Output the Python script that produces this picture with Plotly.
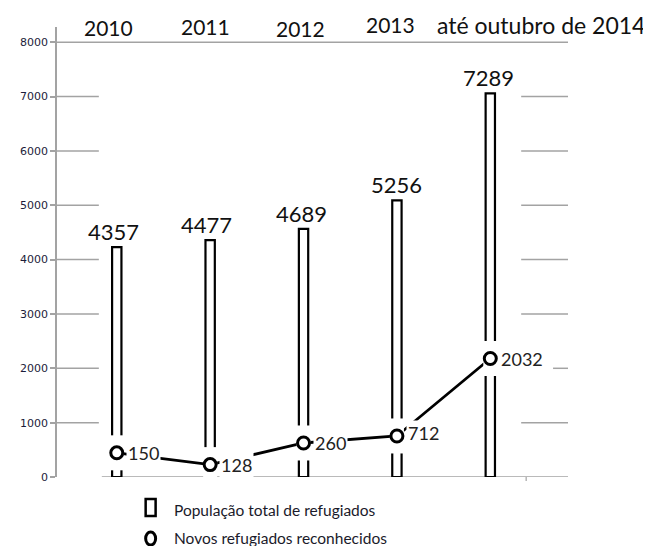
import plotly.graph_objects as go

# ---------------- data ----------------
years = ["2010", "2011", "2012", "2013", "até outubro de 2014"]
pop_label_values = [4357, 4477, 4689, 5256, 7289]      # printed above bars
pop_drawn_heights = [4230, 4360, 4565, 5090, 7060]     # bar heights as drawn
novos_label_values = [150, 128, 260, 712, 2032]        # printed next to circles
novos_drawn_values = [445, 228, 626, 755, 2180]        # circle heights as drawn
y_ticks = [0, 1000, 2000, 3000, 4000, 5000, 6000, 7000, 8000]
legend_names = ["População total de refugiados", "Novos refugiados reconhecidos"]

# ---------------- style / layout constants ----------------
OFF = 8                      # page body margin of the browser
W, H = 651 - OFF, 546 - OFF
ML, MT = 55 - OFF, 27 - OFF
MR, MB = 83, 69
PW, PH = W - ML - MR, H - MT - MB
XR = [-0.64, 4.832]
YR = [0, 8280]
BIG = "Lato"
GRID = "#a3a3a3"

def px_to_paper_x(px):       # px = window pixel
    return (px - OFF - ML) / PW

def px_to_paper_y(py):
    return (H - MB - (py - OFF)) / PH

xs = list(range(len(years)))

fig = go.Figure()

fig.add_trace(go.Bar(
    x=xs, y=pop_drawn_heights, width=0.1,
    marker=dict(color="white", line=dict(color="black", width=2.2)),
    showlegend=False, hoverinfo="skip"))

fig.add_trace(go.Scatter(
    x=xs, y=novos_drawn_values, mode="lines",
    line=dict(color="black", width=2.8),
    showlegend=False, hoverinfo="skip"))

# white gaps that break the bars around the circles
fig.add_trace(go.Scatter(
    x=xs, y=novos_drawn_values, mode="markers",
    marker=dict(symbol="line-ns", size=25, color="white",
                line=dict(color="white", width=14)),
    showlegend=False, hoverinfo="skip"))

fig.add_trace(go.Scatter(
    x=xs, y=novos_drawn_values, mode="markers",
    marker=dict(symbol="circle", size=12, color="white",
                line=dict(color="black", width=3)),
    showlegend=False, hoverinfo="skip"))

annotations = []
# year headers
year_dx = [-0.085, -0.05, -0.03, -0.07, 0.545]
year_dy = [0, 1, -1.5, 2.5, 2.5]
year_size = [21, 21, 21, 21, 23]
for i, t in enumerate(years):
    annotations.append(dict(
        x=xs[i] + year_dx[i], xref="x", y=1, yref="paper",
        yanchor="middle", xanchor="center", yshift=year_dy[i],
        text=t, showarrow=False,
        font=dict(family=BIG, size=year_size[i], color="#111111")))
# bar value labels
bar_dx = [-0.04, -0.04, -0.02, 0.0, -0.02]
for i, v in enumerate(pop_label_values):
    annotations.append(dict(
        x=xs[i] + bar_dx[i], y=pop_drawn_heights[i], yanchor="bottom",
        xanchor="center", text=str(v), showarrow=False,
        font=dict(family=BIG, size=22, color="#111111")))
# circle value labels
lab_dy = [0, 0, 0, 3, 0]
for i, v in enumerate(novos_label_values):
    annotations.append(dict(
        x=xs[i], y=novos_drawn_values[i], yanchor="middle",
        xanchor="left", xshift=9, yshift=lab_dy[i], text=str(v),
        showarrow=False, bgcolor="white", borderpad=1,
        font=dict(family=BIG, size=18, color="#222222")))
# legend texts
legend_y = [510, 538]
for k, name in enumerate(legend_names):
    annotations.append(dict(
        x=px_to_paper_x(170), xref="paper", y=px_to_paper_y(legend_y[k]),
        yref="paper", xanchor="left", yanchor="middle", text=name,
        showarrow=False, font=dict(family=BIG, size=15.5, color="#1a1a2a")))

shapes = []
# gridline pieces
for v in y_ticks:
    if v == 8000:
        segs = [(0, 1)]
    elif v == 0:
        segs = [(px_to_paper_x(100), 1)]
    elif v == 2000:
        segs = [(0, px_to_paper_x(97)), (px_to_paper_x(553), 1)]
    else:
        segs = [(0, px_to_paper_x(97)), (px_to_paper_x(521), 1)]
    for a, b in segs:
        shapes.append(dict(type="line", xref="paper", yref="y",
                           x0=a, x1=b, y0=v, y1=v, layer="below",
                           line=dict(color=GRID, width=1.5)))
# small tick below the baseline
shapes.append(dict(type="line", xref="paper", yref="paper",
                   x0=px_to_paper_x(526), x1=px_to_paper_x(526),
                   y0=0, y1=px_to_paper_y(481), line=dict(color=GRID, width=1.2)))
# legend icons
shapes.append(dict(type="rect", xref="paper", yref="paper",
                   x0=px_to_paper_x(144), x1=px_to_paper_x(154),
                   y0=px_to_paper_y(516), y1=px_to_paper_y(499),
                   line=dict(color="black", width=2.5), fillcolor="white"))
shapes.append(dict(type="circle", xref="paper", yref="paper",
                   x0=px_to_paper_x(144), x1=px_to_paper_x(154),
                   y0=px_to_paper_y(545), y1=px_to_paper_y(532),
                   line=dict(color="black", width=3), fillcolor="white"))

fig.update_layout(
    width=W, height=H,
    margin=dict(l=ML, r=MR, t=MT, b=MB),
    paper_bgcolor="white", plot_bgcolor="white",
    showlegend=False,
    xaxis=dict(range=XR, visible=False, fixedrange=True),
    yaxis=dict(range=YR, tickvals=y_ticks, ticktext=[str(t) for t in y_ticks],
               showgrid=False, zeroline=False, showline=True,
               linecolor=GRID, linewidth=1.5, ticks="outside", ticklen=5,
               tickcolor=GRID, tickwidth=1.5,
               tickfont=dict(family="DejaVu Sans", size=11, color="#1c1c3a")),
    annotations=annotations, shapes=shapes,
)

fig.write_html("out.html")
